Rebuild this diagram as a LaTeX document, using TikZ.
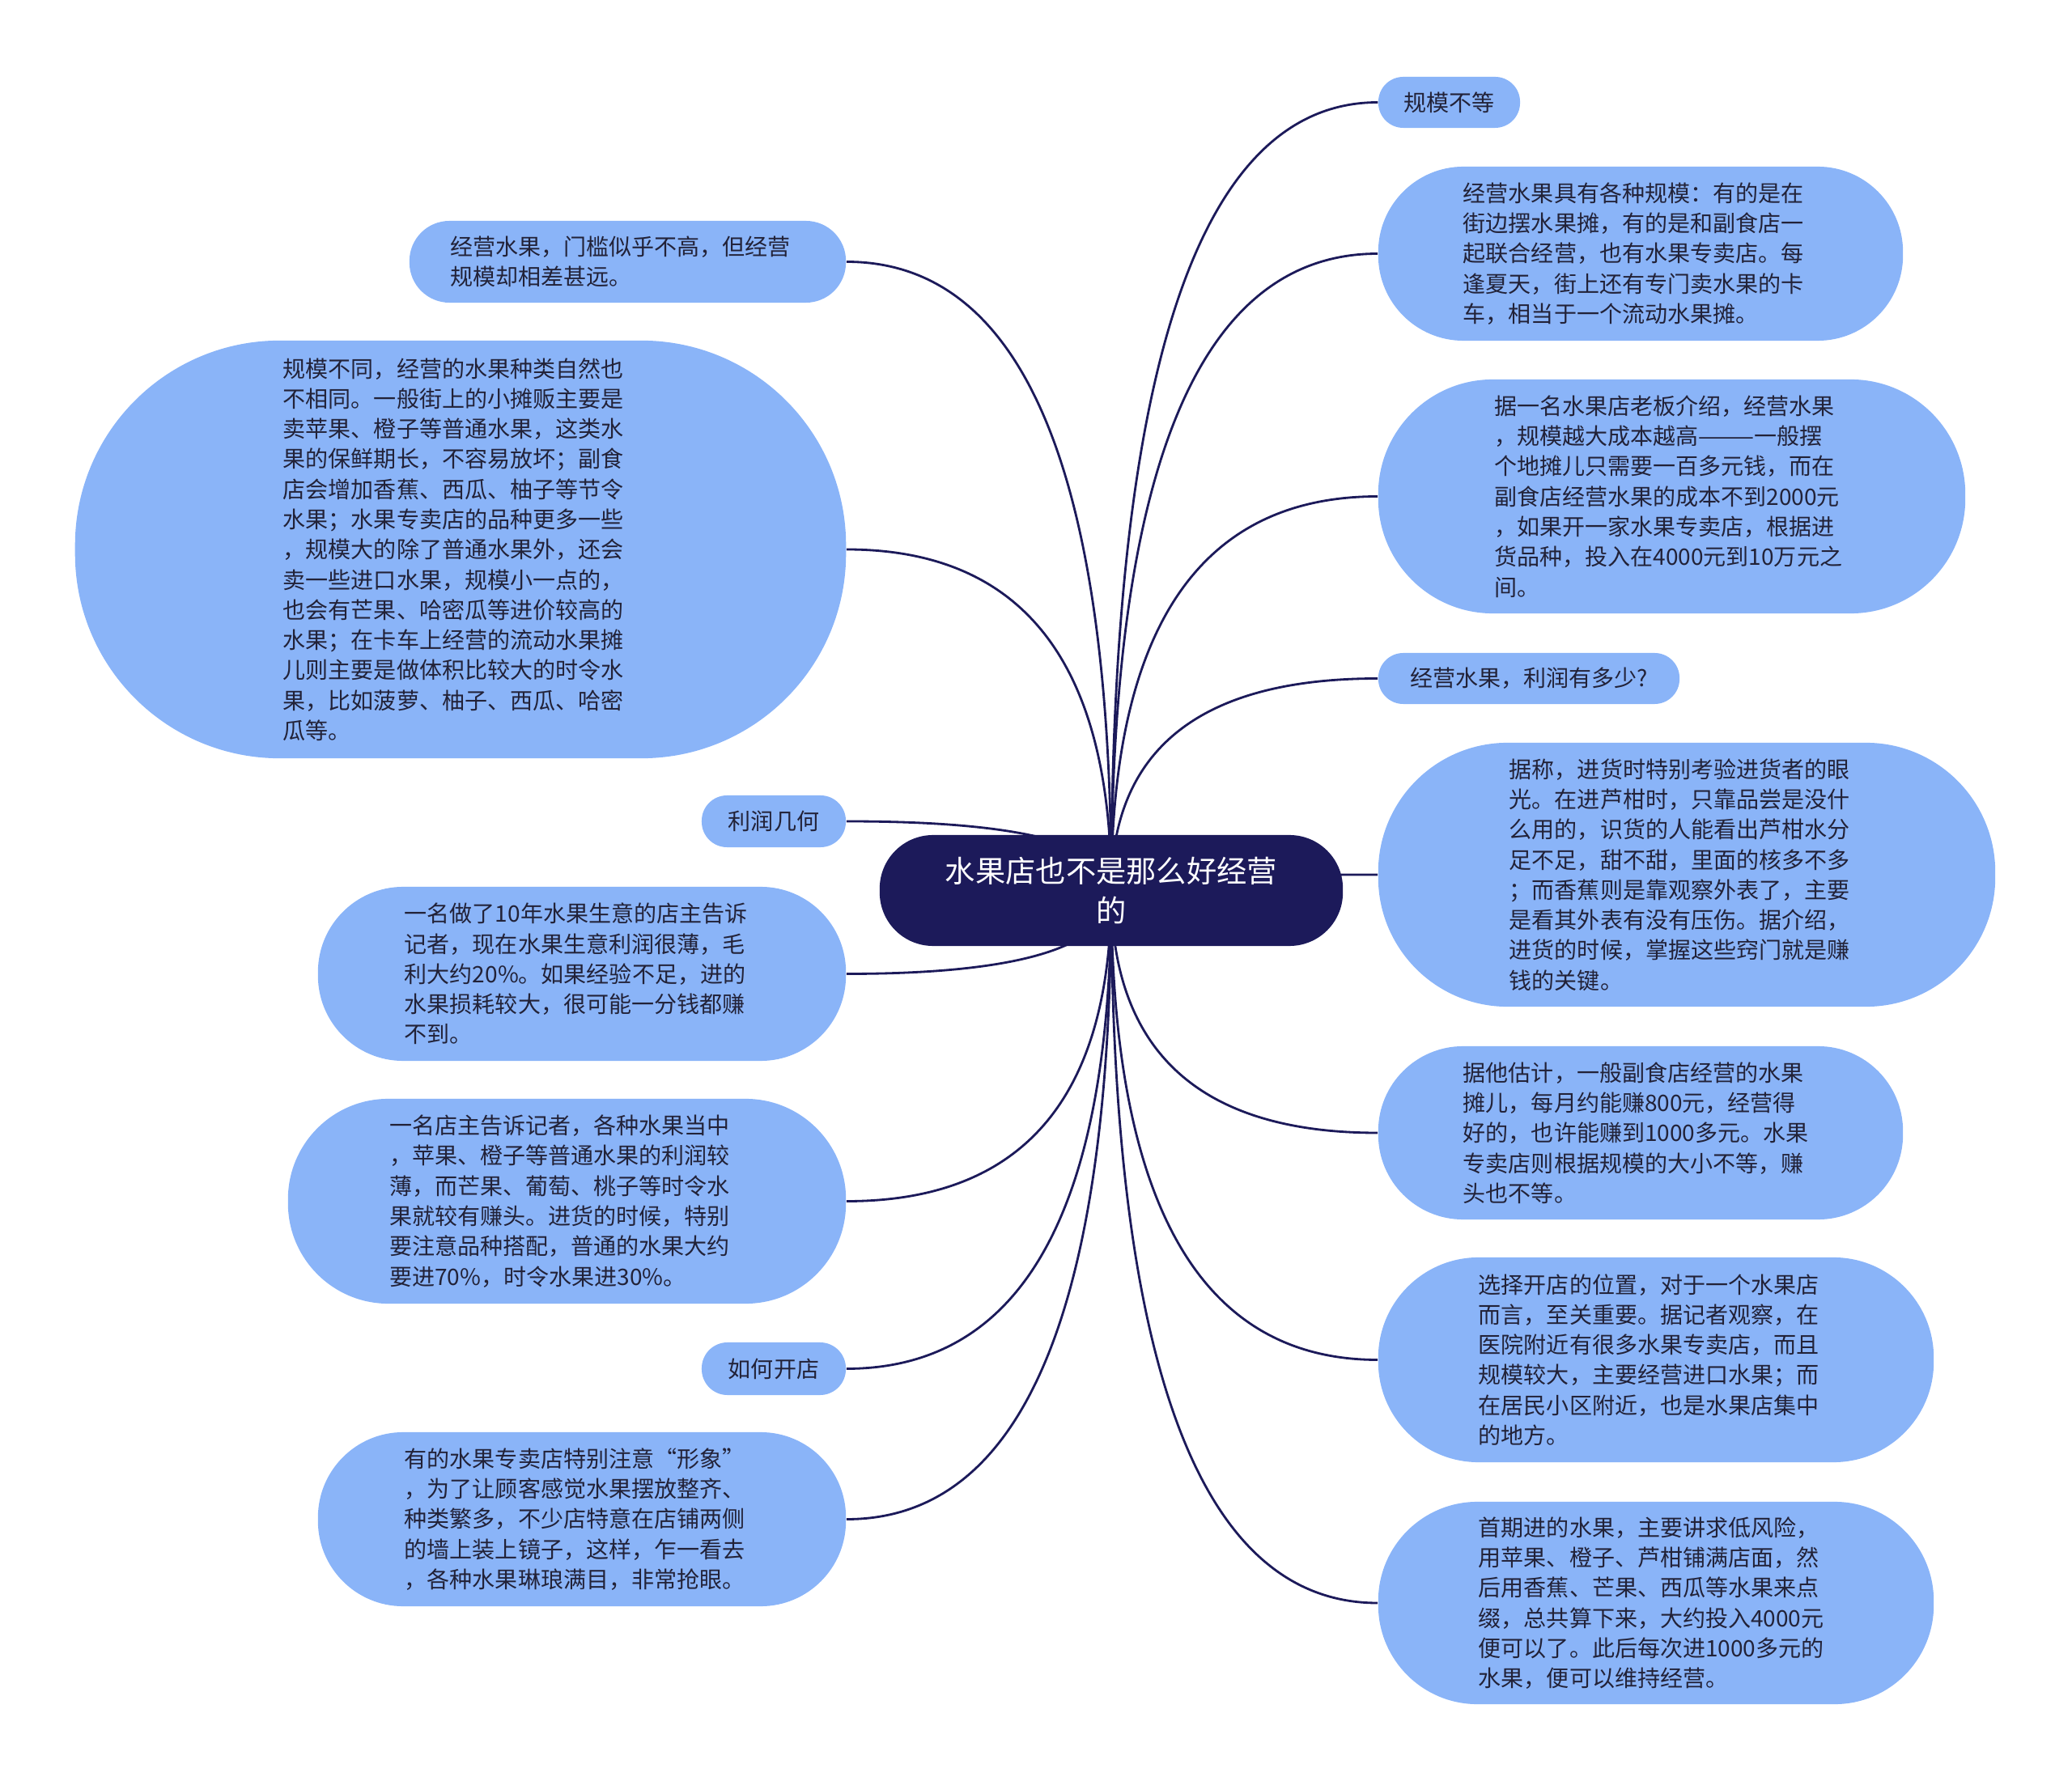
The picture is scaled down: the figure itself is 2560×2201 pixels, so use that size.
\documentclass[tikz,border=0pt]{standalone}
\usepackage{fontspec}
\setmainfont{Noto Sans CJK SC}
\usepackage{xcolor}
\usetikzlibrary{calc, backgrounds}
\definecolor{leafblue}{HTML}{8AB4F8}
\definecolor{rootnavy}{HTML}{1C1A5A}
\definecolor{inkdark}{HTML}{222238}
\tikzset{
    fruitmap/.style={
        x=0.01cm, y=-0.01cm,
        root_node/.style={rectangle, fill=rootnavy, text=white, align=center, inner sep=0pt, minimum width=5.72cm, minimum height=1.37cm, rounded corners=0.66cm, font=\fontsize{10.6pt}{13.9pt}\selectfont},
        leaf/.style 2 args={rectangle, fill=leafblue, text=inkdark, align=left, inner sep=0pt, minimum width=##1, minimum height=##2, rounded corners=0.49*##2, font=\fontsize{7.97pt}{10.6pt}\selectfont},
        note/.style={text width=4.38cm},
        branch/.style={line width=0.8pt, draw=rootnavy}
    }
}
\begin{document}
\begin{tikzpicture}[fruitmap]
        \useasboundingbox (0,0) rectangle (2560,2201);

        % Central topic
        \node[root_node] (root) at (1373,1100.5) {水果店也不是那么好经营\\的};

        % Right branches
        \node[leaf={1.75cm}{0.63cm}] (R1) at (1790.5,126.5) {规模不等};
        \node[leaf={6.48cm}{2.15cm}, note] (R2) at (2027,313.5) {经营水果具有各种规模：有的是在\\街边摆水果摊，有的是和副食店一\\起联合经营，也有水果专卖店。每\\逢夏天，街上还有专门卖水果的卡\\车，相当于一个流动水果摊。};
        \node[leaf={7.25cm}{2.89cm}, note] (R3) at (2065.5,613.5) {据一名水果店老板介绍，经营水果\\，规模越大成本越高———一般摆\\个地摊儿只需要一百多元钱，而在\\副食店经营水果的成本不到2000元\\，如果开一家水果专卖店，根据进\\货品种，投入在4000元到10万元之\\间。};
        \node[leaf={3.72cm}{0.63cm}] (R4) at (1889,838.5) {经营水果，利润有多少?};
        \node[leaf={7.62cm}{3.26cm}, note] (R5) at (2084,1081) {据称，进货时特别考验进货者的眼\\光。在进芦柑时，只靠品尝是没什\\么用的，识货的人能看出芦柑水分\\足不足，甜不甜，里面的核多不多\\；而香蕉则是靠观察外表了，主要\\是看其外表有没有压伤。据介绍，\\进货的时候，掌握这些窍门就是赚\\钱的关键。};
        \node[leaf={6.48cm}{2.14cm}, note] (R6) at (2027,1400) {据他估计，一般副食店经营的水果\\摊儿，每月约能赚800元，经营得\\好的，也许能赚到1000多元。水果\\专卖店则根据规模的大小不等，赚\\头也不等。};
        \node[leaf={6.86cm}{2.53cm}, note] (R7) at (2046,1680.5) {选择开店的位置，对于一个水果店\\而言，至关重要。据记者观察，在\\医院附近有很多水果专卖店，而且\\规模较大，主要经营进口水果；而\\在居民小区附近，也是水果店集中\\的地方。};
        \node[leaf={6.86cm}{2.50cm}, note] (R8) at (2046,1981) {首期进的水果，主要讲求低风险，\\用苹果、橙子、芦柑铺满店面，然\\后用香蕉、芒果、西瓜等水果来点\\缀，总共算下来，大约投入4000元\\便可以了。此后每次进1000多元的\\水果，便可以维持经营。};

        % Left branches
        \node[leaf={5.39cm}{1.01cm}, note] (L1) at (775.5,323.5) {经营水果，门槛似乎不高，但经营\\规模却相差甚远。};
        \node[leaf={9.52cm}{5.16cm}, note] (L2) at (569,679) {规模不同，经营的水果种类自然也\\不相同。一般街上的小摊贩主要是\\卖苹果、橙子等普通水果，这类水\\果的保鲜期长，不容易放坏；副食\\店会增加香蕉、西瓜、柚子等节令\\水果；水果专卖店的品种更多一些\\，规模大的除了普通水果外，还会\\卖一些进口水果，规模小一点的，\\也会有芒果、哈密瓜等进价较高的\\水果；在卡车上经营的流动水果摊\\儿则主要是做体积比较大的时令水\\果，比如菠萝、柚子、西瓜、哈密\\瓜等。};
        \node[leaf={1.78cm}{0.64cm}] (L3) at (956,1015) {利润几何};
        \node[leaf={6.52cm}{2.15cm}, note] (L4) at (719,1203.5) {一名做了10年水果生意的店主告诉\\记者，现在水果生意利润很薄，毛\\利大约20\%。如果经验不足，进的\\水果损耗较大，很可能一分钱都赚\\不到。};
        \node[leaf={6.89cm}{2.53cm}, note] (L5) at (700.5,1484.5) {一名店主告诉记者，各种水果当中\\，苹果、橙子等普通水果的利润较\\薄，而芒果、葡萄、桃子等时令水\\果就较有赚头。进货的时候，特别\\要注意品种搭配，普通的水果大约\\要进70\%，时令水果进30\%。};
        \node[leaf={1.78cm}{0.65cm}] (L6) at (956,1691.5) {如何开店};
        \node[leaf={6.52cm}{2.15cm}, note] (L7) at (719,1877.5) {有的水果专卖店特别注意“形象”\\，为了让顾客感觉水果摆放整齐、\\种类繁多，不少店特意在店铺两侧\\的墙上装上镜子，这样，乍一看去\\，各种水果琳琅满目，非常抢眼。};

        % Connectors behind the boxes
        \begin{scope}[on background layer]
            \foreach \n in {R1,R2,R3,R4,R5,R6,R7,R8}
                \draw[branch] (root.center) .. controls ($(root.center)!2/3!(root.center |- \n.west)$) and ($(\n.west)!2/3!(root.center |- \n.west)$) .. (\n.west);
            \foreach \n in {L1,L2,L3,L4,L5,L6,L7}
                \draw[branch] (root.center) .. controls ($(root.center)!2/3!(root.center |- \n.east)$) and ($(\n.east)!2/3!(root.center |- \n.east)$) .. (\n.east);
        \end{scope}

    \end{tikzpicture}
\end{document}
